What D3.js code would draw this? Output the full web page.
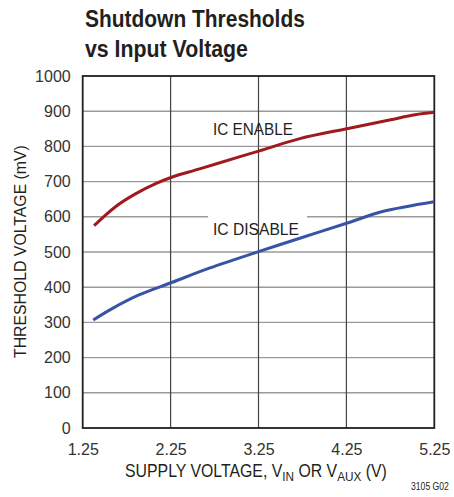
<!DOCTYPE html>
<html><head><meta charset="utf-8">
<script src="https://cdn.jsdelivr.net/npm/d3@7"></script>
<style>body{margin:0;background:#fff}svg{display:block}</style>
</head><body>
<script>
const xTicks = [1.25, 2.25, 3.25, 4.25, 5.25];
const xTickLabels = ["1.25", "2.25", "3.25", "4.25", "5.25"];
const yTicks = [0,100,200,300,400,500,600,700,800,900,1000];
const enableV = [1.38, 1.62, 1.85, 2.08, 2.27, 2.58, 3.04, 3.27, 3.72, 4.27, 4.74, 5.03, 5.25];
const enableMV = [575, 628, 665, 694, 713, 736, 771, 788, 822, 851, 875, 890, 897];
const disableV = [1.37, 1.59, 1.89, 2.27, 2.69, 3.25, 3.72, 4.27, 4.66, 5.25];
const disableMV = [307, 340, 378, 414, 454, 501, 539, 583, 615, 643];
const seriesNames = ["IC ENABLE", "IC DISABLE"];

const W = 454, H = 497;
const L = 82.7, R = 434.3, T = 76, B = 428;
const svg = d3.select("body").append("svg").attr("width", W).attr("height", H);
const x = d3.scaleLinear().domain([1.25, 5.25]).range([L, R]);
const y = d3.scaleLinear().domain([0, 1000]).range([B, T]);
const lab = "'Liberation Sans',Arial,sans-serif";

function fitX(sel, x0, y0, width) {
  const w = sel.node().getComputedTextLength();
  sel.attr("transform", `translate(${x0},${y0}) scale(${width / w},1)`);
}

// title
const t1 = svg.append("text").attr("font-family", lab).attr("font-weight", "bold")
  .attr("font-size", 24).attr("fill", "#231f20").text("Shutdown Thresholds");
fitX(t1, 85, 27, 220);
const t2 = svg.append("text").attr("font-family", lab).attr("font-weight", "bold")
  .attr("font-size", 24).attr("fill", "#231f20").text("vs Input Voltage");
fitX(t2, 85, 57, 163);

// horizontal grid
const g = svg.append("g");
g.selectAll("line.h").data(yTicks.slice(1, -1)).join("line")
  .attr("x1", L).attr("x2", R).attr("y1", d => y(d)).attr("y2", d => y(d))
  .attr("stroke", "#9a9a9a").attr("stroke-width", 1.4);
// vertical grid
g.selectAll("line.v").data(xTicks.slice(1, -1)).join("line")
  .attr("x1", d => x(d)).attr("x2", d => x(d)).attr("y1", T).attr("y2", B)
  .attr("stroke", "#444").attr("stroke-width", 1.2);

// gap behind IC DISABLE
svg.append("rect").attr("x", 208).attr("y", y(600) - 2).attr("width", 99).attr("height", 4).attr("fill", "#fff");
svg.append("line").attr("x1", x(3.25)).attr("x2", x(3.25)).attr("y1", y(600) - 2).attr("y2", y(600) + 2)
  .attr("stroke", "#444").attr("stroke-width", 1.2);

// frame
svg.append("rect").attr("x", L).attr("y", T).attr("width", R - L).attr("height", B - T)
  .attr("fill", "none").attr("stroke", "#231f20").attr("stroke-width", 1.8);

// axes
const xAxis = d3.axisBottom(x).tickValues(xTicks).tickFormat((d, i) => xTickLabels[i]).tickSize(0).tickPadding(16);
const xg = svg.append("g").attr("transform", `translate(0,${B})`).call(xAxis);
xg.select(".domain").remove();
xg.selectAll("text").attr("font-family", lab).attr("font-size", 16).attr("fill", "#333");

const yAxis = d3.axisLeft(y).tickValues(yTicks).tickFormat(d3.format("d")).tickSize(0).tickPadding(12);
const yg = svg.append("g").attr("transform", `translate(${L},0)`).call(yAxis);
yg.select(".domain").remove();
yg.selectAll("text").attr("font-family", lab).attr("font-size", 16).attr("fill", "#333");

// curves
const line = d3.line().curve(d3.curveCatmullRom.alpha(0.5));
svg.append("path").attr("d", line(enableV.map((v, i) => [x(v), y(enableMV[i])])))
  .attr("fill", "none").attr("stroke", "#a0191f").attr("stroke-width", 3);
svg.append("path").attr("d", line(disableV.map((v, i) => [x(v), y(disableMV[i])])))
  .attr("fill", "none").attr("stroke", "#3853a4").attr("stroke-width", 3);

// series labels
const s1 = svg.append("text").attr("font-family", lab).attr("font-size", 16.5)
  .attr("fill", "#231f20").text(seriesNames[0]);
fitX(s1, 213, 135, 80);
const s2 = svg.append("text").attr("font-family", lab).attr("font-size", 16.5)
  .attr("fill", "#231f20").text(seriesNames[1]);
fitX(s2, 213, 235, 86);

// axis titles
const xt = svg.append("text").attr("font-family", lab).attr("font-size", 17.5).attr("fill", "#231f20");
xt.append("tspan").text("SUPPLY VOLTAGE, V");
xt.append("tspan").attr("font-size", 13).attr("dy", 4).text("IN");
xt.append("tspan").attr("dy", -4).text(" OR V");
xt.append("tspan").attr("font-size", 13).attr("dy", 4).text("AUX");
xt.append("tspan").attr("dy", -4).text(" (V)");
fitX(xt, 125, 477, 262);

const yt = svg.append("text").attr("font-family", lab).attr("font-size", 17).attr("fill", "#231f20")
  .text("THRESHOLD VOLTAGE (mV)");
const ytw = yt.node().getComputedTextLength();
yt.attr("transform", `translate(26,358) rotate(-90) scale(${213 / ytw},1)`);

const fn = svg.append("text").attr("font-family", lab).attr("font-size", 10)
  .attr("fill", "#231f20").text("3105 G02");
fitX(fn, 411, 490, 38);
</script>
</body></html>
